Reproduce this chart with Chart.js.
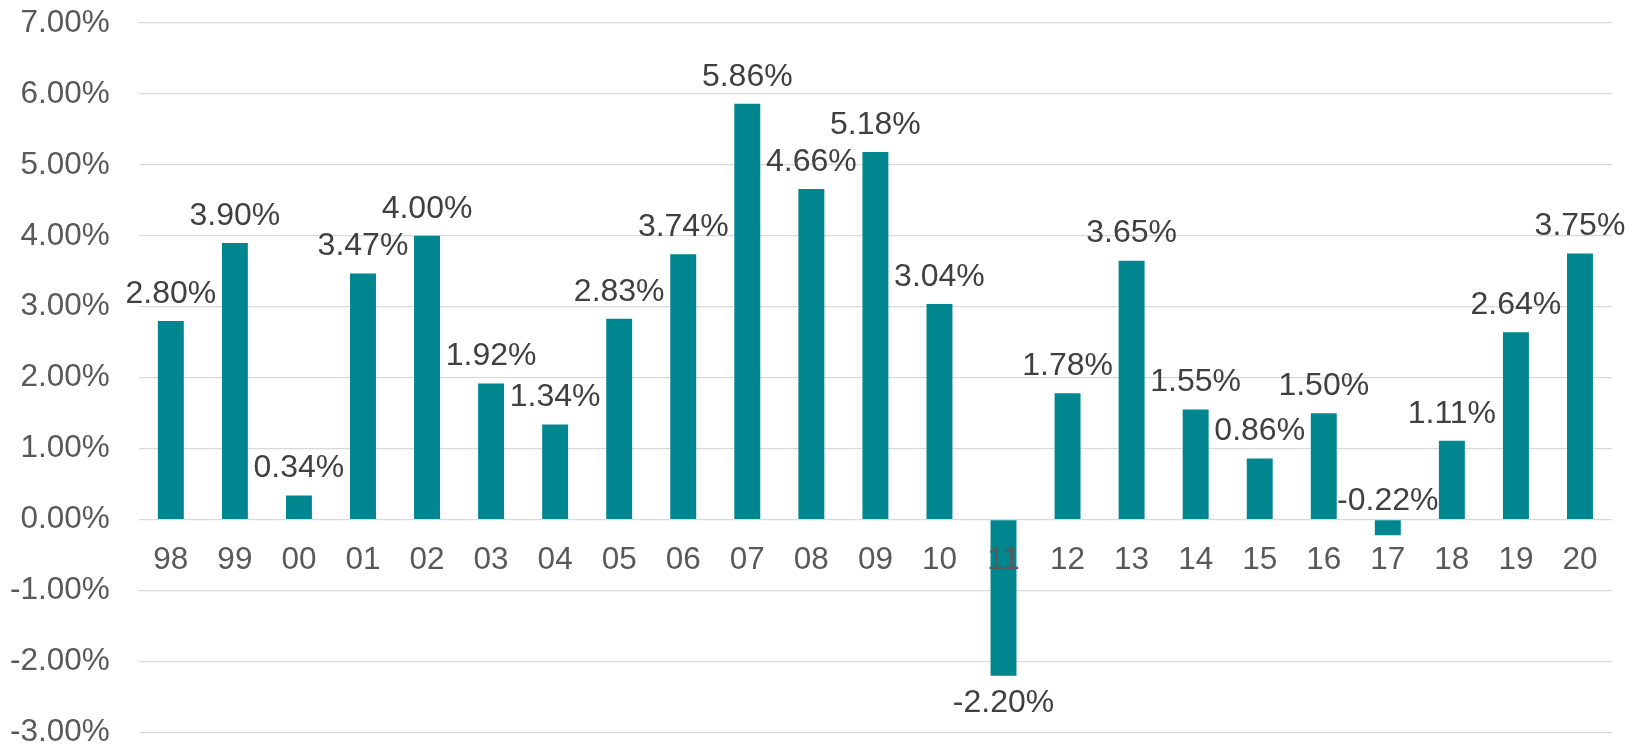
<!DOCTYPE html>
<html>
<head>
<meta charset="utf-8">
<script src="https://cdn.jsdelivr.net/npm/chart.js@4/dist/chart.umd.min.js"></script>
<style>
  html, body { margin: 0; padding: 0; background: #fff; }
  #wrap { width: 1641px; height: 745px; }
</style>
</head>
<body>
<div id="wrap"><canvas id="growthChart"></canvas></div>
<script>
// Year labels (two-digit) and yearly change in percent
const years = ['98', '99', '00', '01', '02', '03', '04', '05', '06', '07', '08', '09',
               '10', '11', '12', '13', '14', '15', '16', '17', '18', '19', '20'];
const growth = [2.80, 3.90, 0.34, 3.47, 4.00, 1.92, 1.34, 2.83, 3.74, 5.86, 4.66, 5.18,
                3.04, -2.20, 1.78, 3.65, 1.55, 0.86, 1.50, -0.22, 1.11, 2.64, 3.75];
const yMin = -3;
const yMax = 7;

const fontFamily = '"Liberation Sans", Arial, sans-serif';

// Draws the value above each bar (below for big negative ones)
const valueLabels = {
    id: 'valueLabels',
    afterDatasetsDraw(chart) {
        const ctx = chart.ctx;
        const meta = chart.getDatasetMeta(0);
        const zeroY = chart.scales.y.getPixelForValue(0);
        ctx.save();
        ctx.font = '32px ' + fontFamily;
        ctx.fillStyle = '#404040';
        ctx.textAlign = 'center';
        ctx.textBaseline = 'middle';
        meta.data.forEach((bar, i) => {
            const v = growth[i];
            let y;
            if (v >= 0) y = bar.y - 27;
            else if (v > -1) y = zeroY - 18; // short negative bar: label stays above the axis
            else y = bar.y + 28;
            ctx.fillText(v.toFixed(2) + '%', bar.x, y);
        });
        ctx.restore();
    }
};

const ctx = document.getElementById('growthChart').getContext('2d');
const growthChart = new Chart(ctx, {
    type: 'bar',
    data: {
        labels: years,
        datasets: [{
            data: growth,
            backgroundColor: '#00868F',
            borderWidth: 0,
            categoryPercentage: 1,
            barPercentage: 0.405
        }]
    },
    options: {
        responsive: true,
        maintainAspectRatio: false,
        animation: false,
        layout: { padding: { left: 10, right: 29, top: 23, bottom: 0 } },
        plugins: {
            legend: { display: false },
            tooltip: { enabled: false }
        },
        scales: {
            x: {
                position: { y: 0 },
                // invisible tick marks give the gap between the zero line and the year labels
                grid: { drawOnChartArea: false, drawTicks: true, tickLength: 28, tickColor: 'rgba(0,0,0,0)' },
                border: { display: false },
                ticks: {
                    z: 1,
                    autoSkip: false,
                    maxRotation: 0,
                    padding: 0,
                    color: '#595959',
                    font: { family: fontFamily, size: 31.5, lineHeight: 0.8 }
                }
            },
            y: {
                min: yMin,
                max: yMax,
                grid: { color: '#D9D9D9', lineWidth: 1.3, drawTicks: true, tickLength: 29, tickColor: 'rgba(0,0,0,0)' },
                border: { display: false },
                ticks: {
                    stepSize: 1,
                    padding: 0,
                    color: '#595959',
                    font: { family: fontFamily, size: 31.5, lineHeight: 0.8 },
                    callback: (v) => v.toFixed(2) + '%'
                }
            }
        }
    },
    plugins: [valueLabels]
});
</script>
</body>
</html>
